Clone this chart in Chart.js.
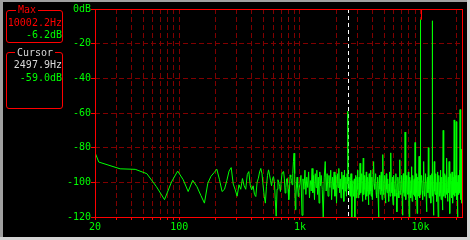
<!DOCTYPE html>
<html><head><meta charset="utf-8">
<script src="https://cdn.jsdelivr.net/npm/chart.js@4.4.1/dist/chart.umd.min.js"></script>
<style>
html,body{margin:0;padding:0;background:#a0a0a0;width:470px;height:240px;overflow:hidden}
#bg{position:absolute;left:3px;top:2px;width:464px;height:235px;background:#000}
#edgeB{position:absolute;left:0;top:237px;width:470px;height:3px;background:#d4d4d4}
#edgeR{position:absolute;left:467px;top:0;width:3px;height:240px;background:#d4d4d4}
canvas{position:absolute;left:0;top:0}
.box{position:absolute;left:6px;width:55px;border:1px solid #f00;border-radius:3px}
.t{position:absolute;font-family:"DejaVu Sans Mono",monospace;font-size:10px;line-height:12px;white-space:pre}
.ttl{background:#000;padding:0 2px}
.r{left:0;width:62px;text-align:right}
</style></head>
<body>
<div id="bg"></div><div id="edgeB"></div><div id="edgeR"></div>
<canvas id="c" width="470" height="240"></canvas>
<div class="box" style="top:10px;height:31px"></div>
<div class="box" style="top:52px;height:55px"></div>
<div class="t ttl" id="maxTitle" style="left:16px;top:4px;color:#f00"></div>
<div class="t r" id="maxF" style="top:17px;color:#f00"></div>
<div class="t r" id="maxL" style="top:29px;color:#0f0"></div>
<div class="t ttl" id="curTitle" style="left:15px;top:47px;color:#d8d8d8"></div>
<div class="t r" id="curF" style="top:59px;color:#d8d8d8"></div>
<div class="t r" id="curL" style="top:72px;color:#0f0"></div>
<script>
// ---- data ----
const panelTitles = ['Max', 'Cursor'];
const maxFreq = 10002.2, maxLevel = -6.2;
const cursorFreq = 2497.9, cursorLevel = -59.0;

const xTickValues = [20,30,40,50,60,70,80,90,100,200,300,400,500,600,700,800,900,1000,2000,3000,4000,5000,6000,7000,8000,9000,10000,20000];
const xLabelValues = [20, 100, 1000, 10000];
const xLabels = ['20', '100', '1k', '10k'];
const yTickValues = [0,-20,-40,-60,-80,-100,-120];
const yLabels = ['0dB','-20','-40','-60','-80','-100','-120'];

// spectrum: [frequency Hz, level dB]
const spectrumLow = [
[10.8,-36],[21.5,-88.3],[32.3,-92.2],[43.1,-92.5],[53.8,-95],[64.6,-102.5],[75.4,-110],[86.1,-99.8],
[96.9,-93.5],[107.7,-98.5],[118.4,-105.3],[129.2,-98.8],[140,-102.5],[150.7,-107.5],[161.5,-112],
[172.3,-100.5],[183,-96.5],[193.8,-94.5],[204.6,-92.4],[215.3,-98.5],[226.1,-105.3],[236.9,-104],
[247.6,-99],[258.4,-93.5],[269.2,-91.5],[279.9,-101],[290.7,-104.3],[301.5,-108],[312.2,-101.4],
[323,-104],[333.7,-97.8],[344.5,-102],[355.3,-104],[366,-95.5],[376.8,-93.8],[387.6,-102],[398.3,-104.3],
[409.1,-102],[419.9,-107],[430.6,-108.2],[441.4,-100],[452.2,-97.6],[463,-94],[473.7,-92],[484.5,-95],
[495.3,-102],[506,-108],[516.8,-112],[527.6,-102.5],[538.3,-96],[549.1,-92.8],[559.9,-95.7],[570.6,-99],
[581.4,-102],[592.2,-98],[603,-96.7],[613.7,-99.5],[624.5,-110],[635.3,-119.5],[646,-104],[656.8,-98.5],
[667.6,-100],[678.3,-102.5],[689.1,-105.3],[699.9,-99],[710.6,-94.7],[721.4,-94],[732.2,-93.8],[743,-98],
[753.7,-106.2],[764.5,-103],[775.3,-98],[786,-97.6],[796.8,-104],[807.6,-110],[818.3,-104],[829.1,-95.7],
[839.9,-97],[850.6,-99],[861.4,-101.4],[872.2,-95],[883,-88],[893.7,-83.2],[904.5,-95],[915.3,-115.8],
[926,-108],[936.8,-101],[947.6,-97],[958.3,-103],[969.1,-108.2],[979.9,-104]
];
const spectrumMid = [
[1000,-101],[1020,-96],[1040,-119],[1060,-98],[1080,-104],[1100,-93],[1120,-107],[1140,-97],[1160,-103],
[1180,-94],[1200,-109],[1220,-99],[1240,-105],[1260,-92],[1280,-106],[1300,-96],[1320,-110],[1340,-95],
[1360,-103],[1380,-93],[1400,-107],[1420,-97],[1440,-112],[1460,-94],[1480,-102],[1500,-96],
[1530,-104],[1560,-120],[1590,-97],[1620,-88],[1650,-105],[1680,-95],[1710,-108],[1740,-96],[1770,-103],
[1800,-93],[1830,-110],[1860,-97],[1890,-104],[1920,-94],[1950,-108],[1980,-96],[2010,-112],[2040,-95],
[2070,-103],[2100,-92],[2130,-106],[2160,-98],[2190,-109],[2220,-94],[2250,-104],[2280,-96],[2310,-111],
[2340,-93],[2370,-105],[2400,-97],[2430,-108],[2460,-95],[2487,-101],[2497.9,-59],[2509,-104],
[2550,-97],[2575,-104],[2600,-108],[2625,-99],[2650,-95],[2675,-106],[2700,-120],[2725,-101],[2750,-99],
[2775,-108],[2800,-106],[2825,-98],[2850,-120],[2875,-103],[2900,-96],[2925,-109],[2950,-105],[2975,-97],
[3000,-93],[3025,-104],[3050,-109],[3075,-100],[3100,-97],[3125,-107],[3150,-89],[3175,-103],[3200,-106],
[3225,-98],[3250,-95],[3275,-105],[3300,-111],[3325,-99],[3350,-86],[3375,-107],[3400,-104],[3425,-97],
[3450,-96],[3475,-106],[3500,-110],[3525,-100],[3550,-94],[3575,-108],[3600,-105],[3625,-98],[3650,-97],
[3675,-104],[3700,-113],[3725,-101],[3750,-95],[3775,-107],[3800,-104],[3825,-99],[3850,-93],[3875,-105],
[3900,-108],[3925,-98],[3950,-97],[3975,-110],[4000,-106]
];
const spectrumHigh = [
[4080,-88],[4120,-101],[4160,-104],[4200,-98],[4240,-95],[4280,-106],[4320,-109],[4360,-100],[4400,-97],
[4440,-107],[4480,-120],[4520,-102],[4560,-96],[4600,-104],[4640,-107],[4680,-99],[4720,-94],[4760,-105],
[4800,-110],[4840,-98],[4880,-84],[4920,-107],[4960,-105],[5000,-99],[5040,-96],[5080,-108],[5120,-112],
[5160,-100],[5200,-95],[5240,-104],[5280,-106],[5320,-98],[5360,-98],[5400,-107],[5440,-111],[5480,-101],
[5520,-94],[5560,-105],[5600,-108],[5640,-99],[5680,-83],[5720,-106],[5760,-104],[5800,-100],[5840,-97],
[5880,-108],[5920,-113],[5960,-101],[6000,-96],
[6060,-104],[6120,-108],[6180,-99],[6240,-95],[6300,-106],[6360,-117],[6420,-101],[6480,-97],[6540,-105],
[6600,-109],[6660,-98],[6720,-87],[6780,-107],[6840,-106],[6900,-99],[6960,-96],[7020,-108],[7080,-119],
[7140,-100],[7200,-95],[7260,-106],[7320,-108],[7380,-99],[7440,-71],[7500,-105],[7560,-110],[7620,-98],
[7680,-96],[7740,-106],[7800,-107],[7860,-100],[7920,-94],[7980,-107],[8040,-120],[8100,-101],[8160,-97],
[8220,-105],[8280,-109],[8340,-99],[8400,-91],[8460,-106],[8520,-111],[8580,-100],[8640,-96],[8700,-107],
[8760,-106],[8820,-99],[8880,-98],[8940,-108],[9000,-77],[9060,-104],[9120,-110],[9180,-100],[9240,-95],
[9300,-106],[9360,-118],[9420,-101],[9480,-97],[9540,-107],[9600,-108],[9660,-99],[9720,-85],[9780,-106],
[9840,-109],[9900,-100],[9960,-97],[9991,-104],[10002.2,-6.2],[10013,-107],
[10100,-100],[10200,-96],[10300,-105],[10400,-110],[10500,-99],[10600,-88],[10700,-106],[10800,-108],
[10900,-100],[11000,-95],[11100,-107],[11200,-117],[11300,-101],[11400,-97],[11500,-106],[11600,-80],
[11700,-104],[11800,-109],[11900,-99],[12000,-96],[12100,-107],[12200,-112],[12300,-100],[12400,-95],
[12489,-105],[12500,-6.8],[12511,-108],[12550,-100],[12600,-97],[12700,-106],[12800,-119],[12900,-101],
[13000,-88],[13100,-105],[13200,-107],[13300,-99],[13400,-95],[13500,-106],[13600,-111],[13700,-100],
[13800,-94],[13900,-107],[14000,-120],[14100,-101],[14200,-96],[14300,-105],[14400,-108],[14500,-100],
[14600,-93],[14700,-106],[14800,-110],[14900,-99],[15000,-97],[15100,-107],[15200,-116],[15300,-101],
[15400,-70],[15500,-105],[15600,-108],[15700,-100],[15800,-95],[15900,-106],[16000,-109],
[16125,-100],[16250,-96],[16375,-107],[16500,-86],[16625,-103],[16750,-111],[16875,-100],[17000,-97],
[17125,-106],[17250,-88],[17375,-104],[17500,-118],[17625,-101],[17750,-95],[17875,-106],[18000,-109],
[18125,-99],[18250,-94],[18375,-106],[18500,-112],[18625,-100],[18750,-97],[18875,-107],[19000,-64],
[19125,-104],[19250,-108],[19375,-100],[19500,-96],[19625,-106],[19750,-65],[19875,-105],[20000,-110],
[20125,-100],[20250,-120],[20375,-102],[20500,-96],[20625,-105],[20750,-107],[20875,-99],[21000,-93],
[21125,-106],[21250,-58],[21375,-104],[21500,-110],[21625,-100],[21750,-81],[21875,-105],[22000,-112],
[22050,-97]
];

// ---- panel text ----
document.getElementById('maxTitle').textContent = panelTitles[0];
document.getElementById('curTitle').textContent = panelTitles[1];
document.getElementById('maxF').textContent = maxFreq.toFixed(1) + 'Hz';
document.getElementById('maxL').textContent = maxLevel.toFixed(1) + 'dB';
document.getElementById('curF').textContent = cursorFreq.toFixed(1) + 'Hz';
document.getElementById('curL').textContent = cursorLevel.toFixed(1) + 'dB';

const spectrum = spectrumLow.concat(spectrumMid, spectrumHigh);
const tickFont = {family: 'DejaVu Sans Mono', size: 10};

const overlay = {
  id: 'overlay',
  beforeDatasetsDraw(chart) {
    const {ctx, chartArea: a, scales: {x}} = chart;
    const px = Math.round(x.getPixelForValue(cursorFreq)) + 0.5;
    ctx.save();
    ctx.strokeStyle = '#ffffff'; ctx.lineWidth = 1; ctx.setLineDash([4, 3]);
    ctx.beginPath(); ctx.moveTo(px, a.top); ctx.lineTo(px, a.bottom); ctx.stroke();
    ctx.restore();
  },
  afterDatasetsDraw(chart) {
    const {ctx, chartArea: a, scales: {x, y}} = chart;
    ctx.save();
    ctx.strokeStyle = '#ff0000'; ctx.lineWidth = 1;
    const mx = Math.round(x.getPixelForValue(maxFreq)) + 0.5;
    ctx.beginPath(); ctx.moveTo(mx, a.top); ctx.lineTo(mx, y.getPixelForValue(maxLevel)); ctx.stroke();
    const l = Math.round(a.left), t = Math.round(a.top), r = Math.round(a.right), b = Math.round(a.bottom);
    ctx.strokeRect(l + 0.5, t + 0.5, r - l, b - t);
    ctx.restore();
  }
};

new Chart(document.getElementById('c'), {
  type: 'line',
  data: {datasets: [{
    data: spectrum.map(p => ({x: p[0], y: p[1]})),
    borderColor: '#00ff00', borderWidth: 1, pointRadius: 0, tension: 0, fill: false
  }]},
  options: {
    responsive: false, animation: false, devicePixelRatio: 1,
    layout: {padding: {left: 0, top: 9, right: 8, bottom: 0}},
    plugins: {legend: {display: false}, tooltip: {enabled: false}},
    scales: {
      x: {
        type: 'logarithmic', min: 20, max: 22050,
        afterBuildTicks: s => { s.ticks = xTickValues.map(v => ({value: v})); },
        afterFit: s => { s.height = 23; },
        ticks: {autoSkip: false, maxRotation: 0, minRotation: 0, color: '#00ff00', font: tickFont, padding: 1,
          callback: v => { const i = xLabelValues.indexOf(v); return i >= 0 ? xLabels[i] : ''; }},
        grid: {color: '#800000', tickColor: '#ff0000', tickLength: 3, lineWidth: 1},
        border: {display: false, dash: [5, 3]}
      },
      y: {
        min: -120, max: 0,
        afterBuildTicks: s => { s.ticks = yTickValues.map(v => ({value: v})); },
        afterFit: s => { s.width = 95; },
        ticks: {color: '#00ff00', font: tickFont, padding: 0,
          callback: v => yLabels[yTickValues.indexOf(v)]},
        grid: {color: '#800000', tickColor: '#ff0000', tickLength: 4, lineWidth: 1},
        border: {display: false, dash: [5, 3]}
      }
    }
  },
  plugins: [overlay]
});
</script>
</body></html>
